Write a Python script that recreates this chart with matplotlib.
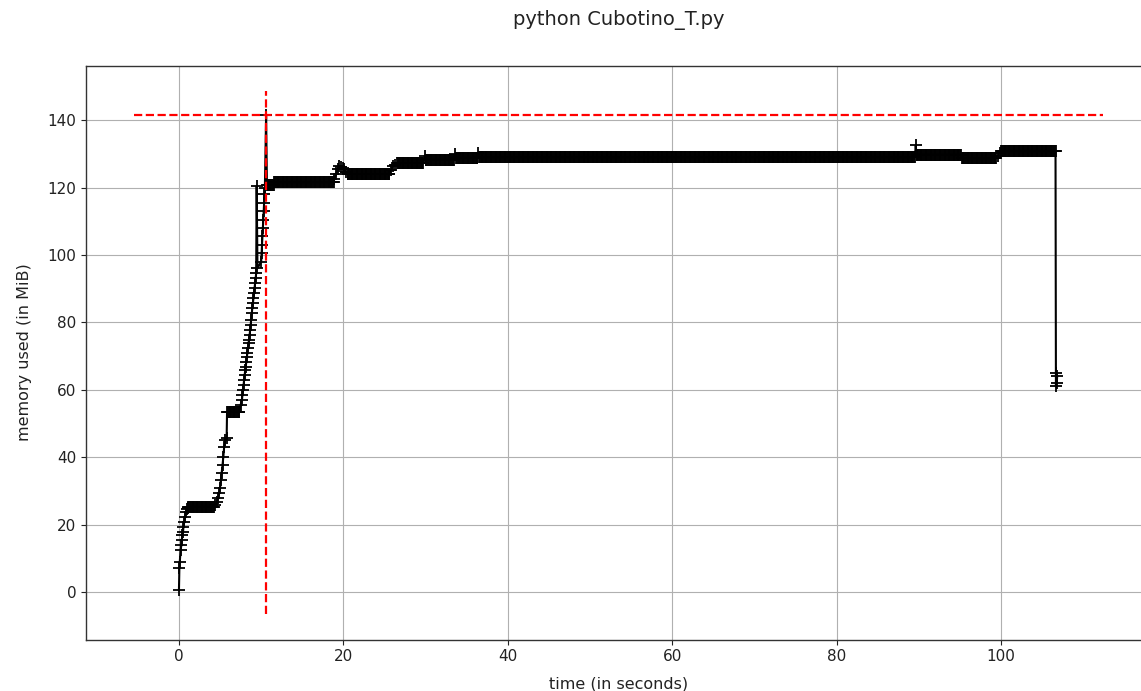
import numpy as np
import matplotlib
matplotlib.use("Agg")
import matplotlib.pyplot as plt

# mprof samples the process at a fixed interval
sample_dt = 0.1

# single readings (start-up ramp, spikes, transitions, final drop)
step_t = [0.00, 0.05, 0.10, 0.20, 0.30, 0.35, 0.40, 0.50, 0.55, 0.65, 0.75, 0.85, 0.95, 1.05,
          4.40, 4.60, 4.75, 4.90, 5.00, 5.10, 5.20, 5.30, 5.40, 5.50, 5.65, 5.80, 5.85,
          7.50, 7.66, 7.72, 7.79, 7.86, 7.92, 7.99, 8.06, 8.12, 8.19, 8.26, 8.32, 8.39, 8.46,
          8.52, 8.59, 8.66, 8.72, 8.79, 8.86, 8.92, 8.99, 9.06, 9.12, 9.19, 9.26, 9.32, 9.39,
          9.45, 9.55, 10.00, 10.05, 10.10, 10.15, 10.20, 10.25, 10.30, 10.35, 10.40, 10.45,
          10.60,
          18.90, 19.10, 19.30, 19.50, 19.70, 19.90, 20.10, 20.30,
          25.80, 26.00, 26.30, 29.90, 33.60, 36.40, 89.60,
          99.60, 99.80,
          106.60, 106.65, 106.70, 106.75, 106.80]
step_mem = [0.6, 7.0, 9.0, 12.5, 13.9, 15.4, 16.9, 17.9, 19.4, 20.9, 22.3, 23.8, 24.6, 25.0,
            25.8, 26.6, 27.8, 29.5, 31.0, 33.2, 35.2, 37.7, 40.1, 43.1, 45.1, 45.6, 53.5,
            55.5, 57.0, 58.4, 59.9, 61.4, 62.9, 64.4, 65.9, 66.8, 68.3, 69.8, 70.8, 72.3, 73.8,
            74.8, 76.2, 77.7, 79.2, 80.7, 82.7, 84.2, 85.6, 87.1, 88.6, 90.1, 91.6, 93.1, 94.5,
            120.5, 96.0, 98.0, 100.5, 103.0, 105.5, 108.0, 110.5, 113.0, 115.5, 118.0, 120.0,
            141.5,
            122.5, 124.0, 125.5, 126.3, 126.0, 125.8, 125.5, 124.5,
            125.2, 126.3, 126.8, 129.5, 130.0, 130.3, 132.5,
            129.5, 130.3,
            130.8, 61.0, 65.0, 62.0, 64.0]

# flat stretches: start, end (s) and level (MiB)
flat_start = [1.15, 5.95, 10.70, 11.60, 20.50, 26.50, 30.00, 33.70, 36.50, 89.70, 95.20, 100.00]
flat_end = [4.30, 7.35, 11.50, 18.80, 25.60, 29.70, 33.40, 36.30, 89.50, 95.10, 99.40, 106.50]
flat_mem = [25.3, 53.5, 120.8, 121.6, 124.0, 127.3, 128.3, 128.8, 129.0, 129.7, 128.7, 130.8]

# max line extents as drawn by mprof
max_line_x = [-5.5, 112.4]
max_line_y = [-6.4, 148.5]

t_list = list(step_t)
m_list = list(step_mem)
for t0, t1, m in zip(flat_start, flat_end, flat_mem):
    ts = np.arange(t0, t1 + 1e-9, sample_dt)
    t_list.extend(ts)
    m_list.extend([m] * len(ts))
order = np.argsort(t_list, kind="stable")
t = np.array(t_list)[order]
mem = np.array(m_list)[order]

fig = plt.figure(figsize=(11.41, 6.91), dpi=100)
ax = fig.add_axes([0.0754, 0.0745, 0.934, 0.8307])

ax.plot(t, mem, "+-k", markersize=8, linewidth=1.5, markeredgewidth=1.3)

imax = int(np.argmax(mem))
ax.hlines(mem[imax], max_line_x[0], max_line_x[1], colors="r", linestyles="dashed", linewidth=1.6)
ax.vlines(t[imax], max_line_y[0], max_line_y[1], colors="r", linestyles="dashed", linewidth=1.6)

ax.set_xlim(-11.3, 118.3)
ax.set_ylim(-14.1, 156.2)
ax.set_xticks([0, 20, 40, 60, 80, 100])
ax.set_yticks([0, 20, 40, 60, 80, 100, 120, 140])
ax.tick_params(labelsize=11, colors="#222222", labelcolor="#222222")
ax.grid(True)
ax.set_axisbelow(True)
for s in ax.spines.values():
    s.set_color("#333333")
    s.set_linewidth(1.0)

ax.set_xlabel("time (in seconds)", fontsize=11.5, labelpad=9, color="#222222")
ax.set_ylabel("memory used (in MiB)", fontsize=11.5, labelpad=11, color="#222222")
fig.text(0.542, 0.971, "python Cubotino_T.py", ha="center", va="center", fontsize=14, color="#222222")

fig.savefig("out.png", dpi=100)
